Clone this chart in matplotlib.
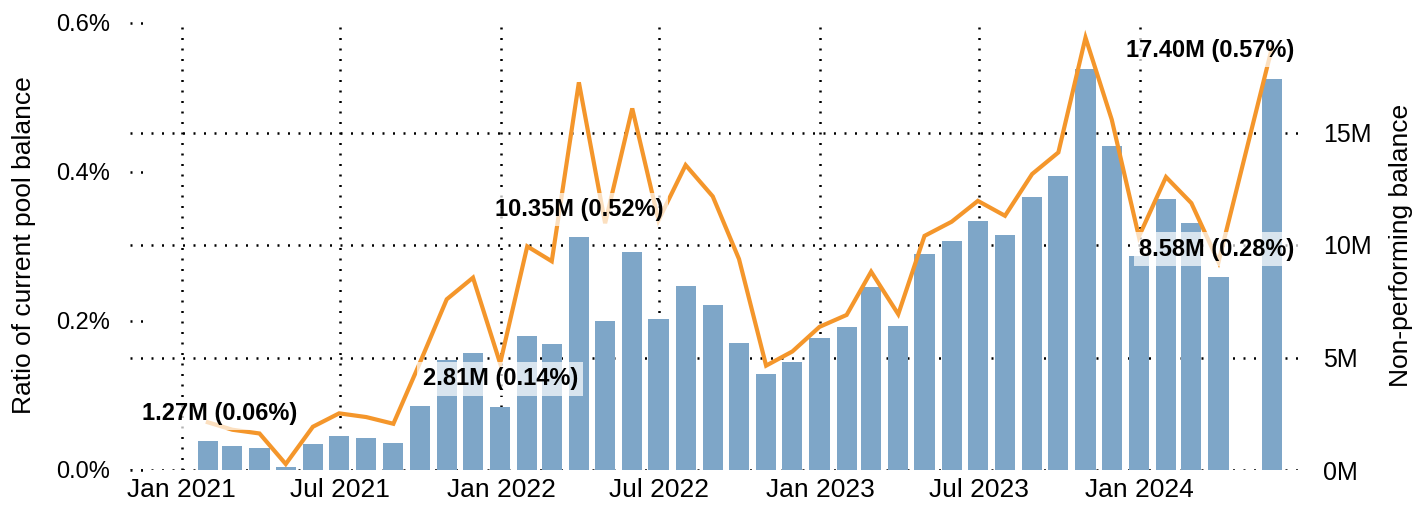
import numpy as np
import pandas as pd
import matplotlib
matplotlib.use("Agg")
import matplotlib.pyplot as plt
import matplotlib.dates as mdates
import matplotlib.transforms as mtransforms
from matplotlib.ticker import FuncFormatter, FixedLocator

plt.rcParams['font.family'] = ['Liberation Sans', 'DejaVu Sans']

# month-end reporting dates (April 2024 is missing in the source)
months = ["2021-01", "2021-02", "2021-03", "2021-04", "2021-05", "2021-06",
          "2021-07", "2021-08", "2021-09", "2021-10", "2021-11", "2021-12",
          "2022-01", "2022-02", "2022-03", "2022-04", "2022-05", "2022-06",
          "2022-07", "2022-08", "2022-09", "2022-10", "2022-11", "2022-12",
          "2023-01", "2023-02", "2023-03", "2023-04", "2023-05", "2023-06",
          "2023-07", "2023-08", "2023-09", "2023-10", "2023-11", "2023-12",
          "2024-01", "2024-02", "2024-03", "2024-05"]

# non-performing balance, millions
balance = [1.27, 1.08, 0.99, 0.15, 1.17, 1.52, 1.44, 1.21, 2.85, 4.90, 5.18, 2.81,
           5.97, 5.61, 10.35, 6.64, 9.70, 6.72, 8.19, 7.35, 5.66, 4.28, 4.81, 5.88,
           6.37, 8.15, 6.41, 9.61, 10.19, 11.08, 10.46, 12.15, 13.08, 17.83, 14.41, 9.52,
           12.06, 10.96, 8.58, 17.40]

# ratio of current pool balance, percent
ratio = [0.064, 0.054, 0.049, 0.008, 0.058, 0.076, 0.071, 0.062, 0.143, 0.229, 0.258, 0.143,
         0.300, 0.280, 0.520, 0.331, 0.485, 0.335, 0.409, 0.367, 0.283, 0.140, 0.159, 0.192,
         0.208, 0.266, 0.209, 0.314, 0.333, 0.361, 0.341, 0.397, 0.426, 0.580, 0.470, 0.313,
         0.393, 0.358, 0.279, 0.566]

labelled = ["2021-01", "2021-12", "2022-03", "2024-03", "2024-05"]
xticks = ["2021-01", "2021-07", "2022-01", "2022-07", "2023-01", "2023-07", "2024-01"]

BAR_COLOR = "#7ea6c8"
LINE_COLOR = "#f4962b"
DOTS = (0, (0.8, 3.4))
DOT_LW = 1.8

dates = pd.to_datetime(months) + pd.offsets.MonthEnd(0)

fig = plt.figure(figsize=(14.28, 5.05), dpi=100)
ax = fig.add_axes([130/1428, 35/505, 1176/1428, 450/505])   # bars, right axis
ax2 = ax.twinx()                                              # ratio line, left axis

ax.bar(dates, balance, width=23, color=BAR_COLOR, zorder=2)
ax.set_axisbelow(True)
ax.yaxis.tick_right()
ax.yaxis.set_label_position("right")
ax.set_ylim(0, 20)
ax.yaxis.set_major_locator(FixedLocator([0, 5, 10, 15]))
ax.yaxis.set_major_formatter(FuncFormatter(lambda v, p: "%dM" % v))
ax.set_ylabel("Non-performing balance", fontsize=19, labelpad=13)
ax.grid(True, color="black", linestyle=DOTS, linewidth=DOT_LW)

ax2.plot(dates, ratio, color=LINE_COLOR, linewidth=3, solid_joinstyle="miter", zorder=3)
ax2.yaxis.tick_left()
ax2.yaxis.set_label_position("left")
ax2.set_ylim(0, 450/745.5)
ax2.yaxis.set_major_locator(FixedLocator([0, 0.2, 0.4, 0.6]))
ax2.yaxis.set_major_formatter(FuncFormatter(lambda v, p: "%.1f%%" % v))
ax2.set_ylabel("Ratio of current pool balance", fontsize=19, labelpad=14)
# short dotted stubs at the left ticks
stub = mtransforms.blended_transform_factory(ax2.transAxes, ax2.transData)
for t in [0, 0.2, 0.4, 0.6]:
    ax2.plot([0, 0.011], [t, t], transform=stub, color="black",
             linestyle=DOTS, linewidth=DOT_LW, clip_on=False)

ax.set_xlim(pd.Timestamp("2020-11-03"), pd.Timestamp("2024-07-09"))
ax.xaxis.set_major_locator(FixedLocator(mdates.date2num(pd.to_datetime(xticks))))
ax.xaxis.set_major_formatter(mdates.DateFormatter("%b %Y"))

for a in (ax, ax2):
    for s in a.spines.values():
        s.set_visible(False)
    a.tick_params(length=0)
ax.tick_params(axis="x", pad=6, labelsize=19)
ax.tick_params(axis="y", pad=12, labelsize=18)
ax2.tick_params(axis="y", pad=14.5, labelsize=17)

anns = []
for m, b, r in zip(months, balance, ratio):
    if m not in labelled:
        continue
    d = pd.Timestamp(m) + pd.offsets.MonthEnd(0)
    a = ax2.annotate("%.2fM (%.2f%%)" % (b, r), xy=(mdates.date2num(d), b),
                     xycoords=ax.transData, xytext=(0, 20), textcoords="offset points",
                     ha="center", va="center", fontsize=17, fontweight="bold",
                     bbox=dict(boxstyle="square,pad=0.22", fc="white", ec="none", alpha=0.7),
                     zorder=10)
    anns.append(a)

# keep labels inside the plot area
fig.canvas.draw()
r = fig.canvas.get_renderer()
axbox = ax.get_window_extent(r)
margin = 12
for a in anns:
    tb = a.get_window_extent(r)
    dx = 0
    if tb.x0 < axbox.x0 + margin:
        dx = axbox.x0 + margin - tb.x0
    elif tb.x1 > axbox.x1 - margin:
        dx = axbox.x1 - margin - tb.x1
    a.xyann = (dx * 72 / fig.dpi, 20)

fig.savefig("out.png", dpi=100)
